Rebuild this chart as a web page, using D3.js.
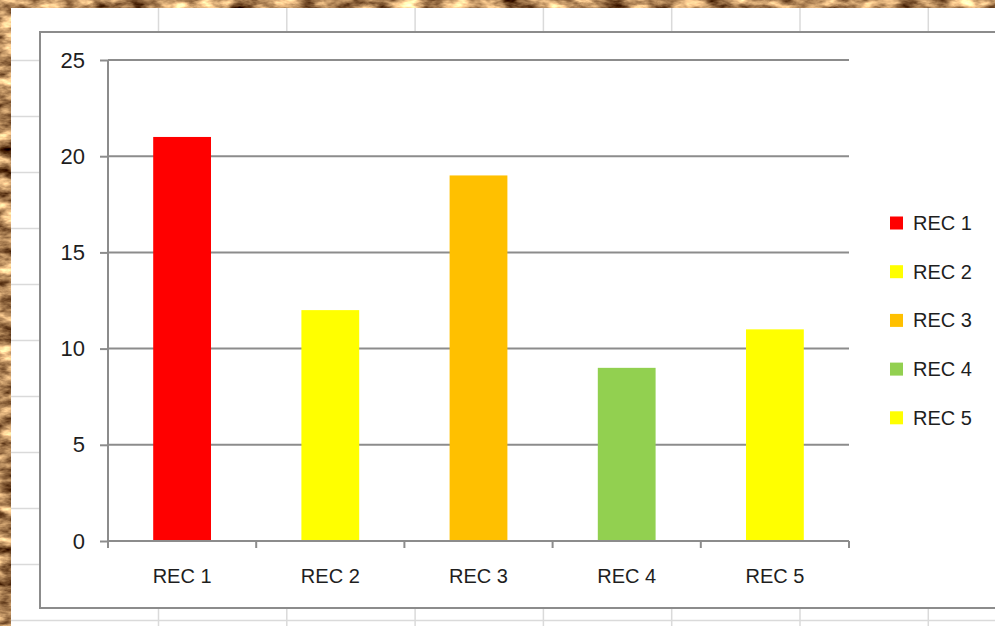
<!DOCTYPE html>
<html lang="en">
<head>
<meta charset="UTF-8">
<title>REC chart</title>
<script src="https://d3js.org/d3.v7.min.js"></script>
<style>
  body { margin: 0; overflow: hidden; background: #fff; }
  svg text { font-family: "Liberation Sans", Arial, sans-serif; fill: #1e1e1e; }
</style>
</head>
<body>
<div id="chart"></div>
<script>
// data
const categories = ["REC 1", "REC 2", "REC 3", "REC 4", "REC 5"];
const values = [21, 12, 19, 9, 11];
const colors = ["#ff0000", "#ffff00", "#ffc000", "#92d050", "#ffff00"];
const yTicks = [0, 5, 10, 15, 20, 25];

const width = 995, height = 626;
const svg = d3.select("#chart").append("svg")
    .attr("width", width)
    .attr("height", height);

// sandy backdrop made from noise
const defs = svg.append("defs");
const sand = defs.append("filter").attr("id", "sand")
    .attr("color-interpolation-filters", "sRGB")
    .attr("x", 0).attr("y", 0).attr("width", "100%").attr("height", "100%");
sand.append("feTurbulence")
    .attr("type", "fractalNoise")
    .attr("baseFrequency", "0.04 0.09")
    .attr("numOctaves", 4)
    .attr("seed", 7);
sand.append("feColorMatrix").attr("type", "matrix")
    .attr("values", "1.7 0 0 0 -0.15  1.6 0 0 0 -0.27  1.3 0 0 0 -0.3  0 0 0 0 1");
svg.append("rect")
    .attr("width", width).attr("height", height)
    .attr("filter", "url(#sand)");

// spreadsheet cells behind the chart
const sheet = svg.append("g");
sheet.append("rect")
    .attr("x", 11).attr("y", 8)
    .attr("width", width - 11).attr("height", height - 8)
    .attr("fill", "#fff");
sheet.selectAll(".col")
    .data(d3.range(158.5, width, 128.3))
    .enter().append("line")
    .attr("x1", d => d).attr("x2", d => d)
    .attr("y1", 8).attr("y2", height)
    .attr("stroke", "#dadada").attr("stroke-width", 1.5);
sheet.selectAll(".row")
    .data(d3.range(60.5, height, 56))
    .enter().append("line")
    .attr("x1", 11).attr("x2", width)
    .attr("y1", d => d).attr("y2", d => d)
    .attr("stroke", "#dadada").attr("stroke-width", 1.5);

// chart area box
svg.append("rect")
    .attr("x", 40).attr("y", 32)
    .attr("width", 1000).attr("height", 576)
    .attr("fill", "#fff")
    .attr("stroke", "#8c8c8c")
    .attr("stroke-width", 2);

// scales
const x = d3.scaleBand()
    .domain(categories)
    .range([108, 849])
    .paddingInner(0.61)
    .paddingOuter(0.305);
const y = d3.scaleLinear()
    .domain([0, 25])
    .range([541, 60]);

const gridColor = "#8c8c8c";

// horizontal gridlines
svg.append("g").selectAll("line")
    .data(yTicks.filter(d => d > 0))
    .enter().append("line")
    .attr("x1", 108).attr("x2", 849)
    .attr("y1", d => y(d)).attr("y2", d => y(d))
    .attr("stroke", gridColor).attr("stroke-width", 2);

// bars
svg.append("g").selectAll("rect")
    .data(values)
    .enter().append("rect")
    .attr("x", (d, i) => x(categories[i]))
    .attr("y", d => y(d))
    .attr("width", x.bandwidth())
    .attr("height", d => y(0) - y(d))
    .attr("fill", (d, i) => colors[i]);

// y axis
const yAxis = svg.append("g")
    .attr("transform", "translate(108,0)")
    .call(d3.axisLeft(y).tickValues(yTicks).tickSize(8).tickPadding(15));
yAxis.select(".domain").remove();
yAxis.selectAll(".tick line").attr("stroke", gridColor).attr("stroke-width", 2);
yAxis.selectAll(".tick text").attr("font-size", 22).attr("font-family", null);
svg.append("line")
    .attr("x1", 108).attr("x2", 108)
    .attr("y1", y(25)).attr("y2", y(0) + 7)
    .attr("stroke", gridColor).attr("stroke-width", 2);

// x axis
const xAxis = svg.append("g")
    .attr("transform", `translate(0,${y(0)})`)
    .call(d3.axisBottom(x).tickSize(0).tickPadding(28));
xAxis.select(".domain").remove();
xAxis.selectAll(".tick text").attr("font-size", 20).attr("font-family", null);
svg.append("line")
    .attr("x1", 108).attr("x2", 849)
    .attr("y1", y(0)).attr("y2", y(0))
    .attr("stroke", gridColor).attr("stroke-width", 2);
svg.append("g").selectAll("line")
    .data(d3.range(categories.length + 1))
    .enter().append("line")
    .attr("x1", i => x.range()[0] + i * x.step())
    .attr("x2", i => x.range()[0] + i * x.step())
    .attr("y1", y(0)).attr("y2", y(0) + 7)
    .attr("stroke", gridColor).attr("stroke-width", 2);

// legend
const legend = svg.append("g").selectAll("g")
    .data(categories)
    .enter().append("g")
    .attr("transform", (d, i) => `translate(890,${223 + i * 48.7})`);
legend.append("rect")
    .attr("x", 0).attr("y", -6.5)
    .attr("width", 13).attr("height", 13)
    .attr("fill", (d, i) => colors[i]);
legend.append("text")
    .attr("x", 23).attr("y", 7)
    .attr("font-size", 20)
    .text(d => d);
</script>
</body>
</html>
